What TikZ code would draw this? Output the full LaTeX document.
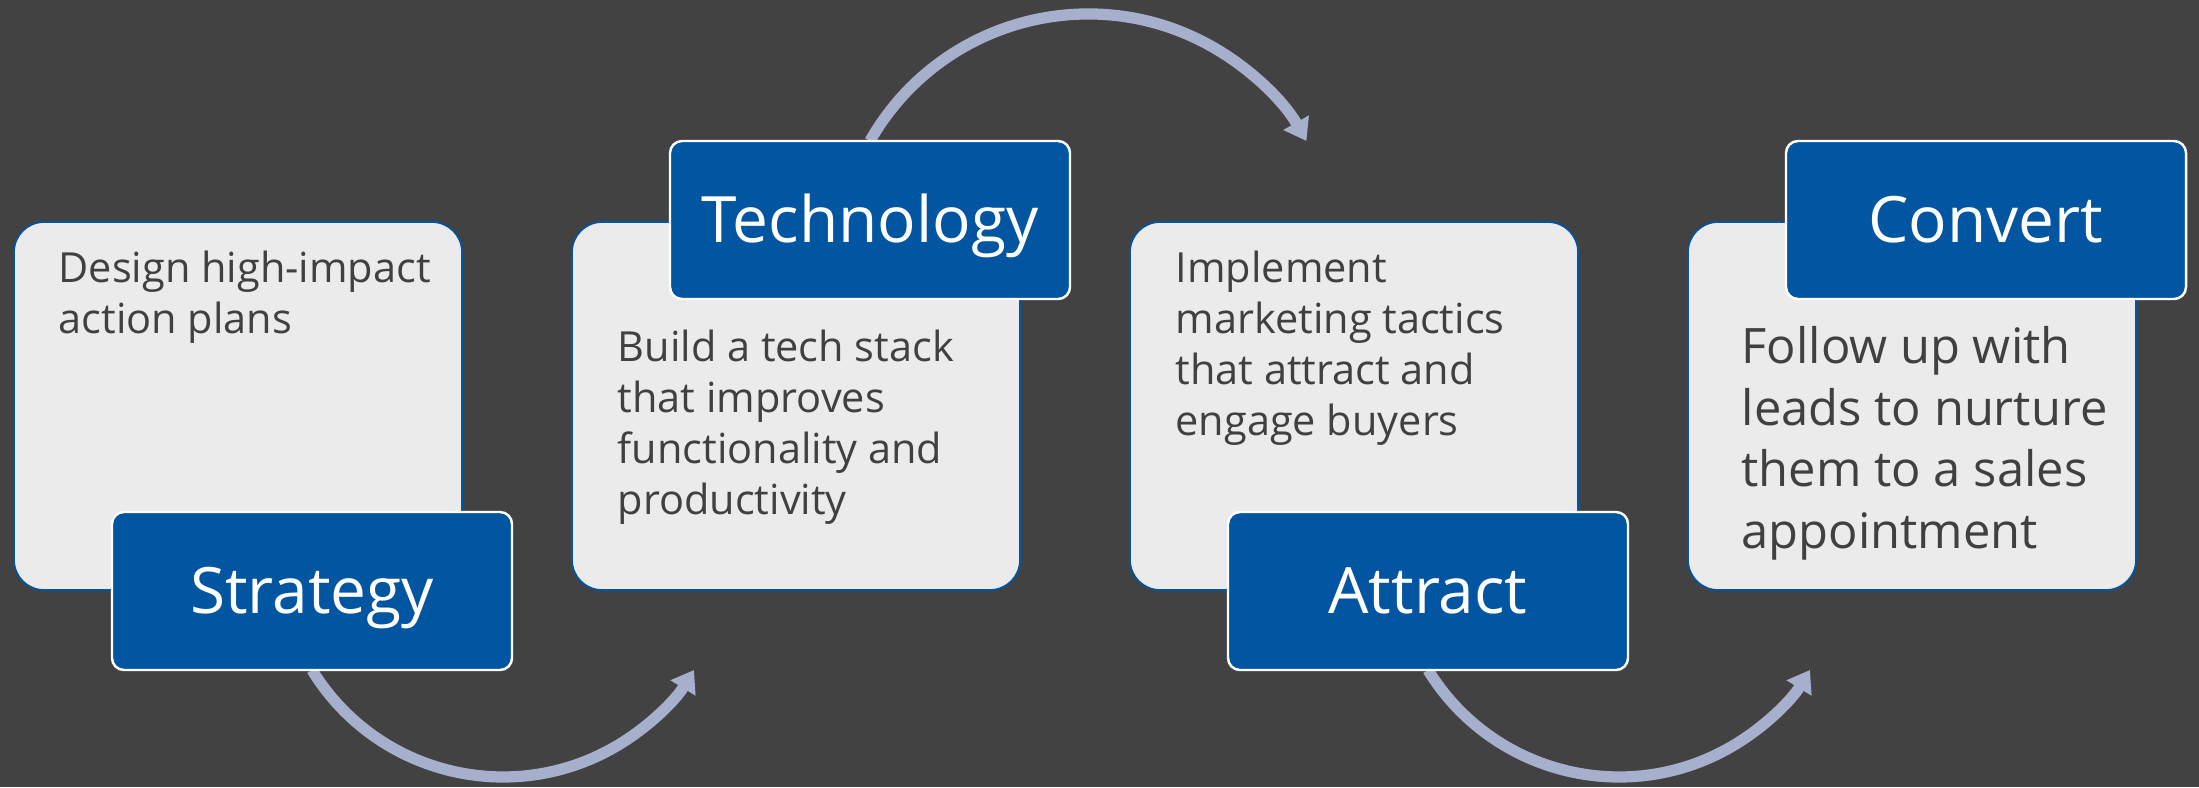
\documentclass[tikz,border=0pt]{standalone}
\usepackage{fontspec}
\setmainfont{Open Sans}
\usepackage{xcolor}
\usepackage{tikz}
\usetikzlibrary{positioning,arrows.meta}

\definecolor{slate}{HTML}{424242}
\definecolor{cardgrey}{HTML}{EBEBEB}
\definecolor{stepblue}{HTML}{0255A0}
\definecolor{loopline}{HTML}{A6AFCB}
\definecolor{inktext}{HTML}{404040}

\pgfdeclarelayer{backdrop}
\pgfdeclarelayer{loops}
\pgfsetlayers{backdrop,loops,main}

\tikzset{
  card/.style={draw=stepblue, line width=0.5pt, fill=cardgrey, rounded corners=0.3cm,
    minimum width=4.48cm, minimum height=3.68cm, inner sep=0, outer sep=0},
  tag/.style={draw=white, line width=0.7pt, fill=stepblue, rounded corners=0.12cm,
    minimum width=4cm, minimum height=1.58cm, inner sep=0, outer sep=0,
    text=white, font=\fontsize{18.2}{22}\selectfont, text height=13pt, text depth=0pt},
  blurb/.style={anchor=north west, inner sep=0, align=left, text=inktext,
    font=\fontsize{11.8}{14.45}\selectfont},
  loop/.style={draw=loopline, line width=3.2pt, -{Triangle[width=8pt,length=6pt]}},
}

\begin{document}
\begin{tikzpicture}
  \begin{pgfonlayer}{backdrop}
    \fill[slate] (0,0) rectangle (21.99,7.87) ; %
  \end{pgfonlayer}
  \useasboundingbox (0,0) rectangle (21.99,7.87) ;

  \node[card] (design) at (2.38,3.81) {} ; %
  \node[card, right=1.1cm of design] (stack) {} ; %
  \node[card, right=1.1cm of stack] (tactics) {} ; %
  \node[card, right=1.1cm of tactics] (nurture) {} ; %

  \node[tag, anchor=north west] (strat) at ([shift={(0.98,0.78)}]design.south west) {Strategy} ; %
  \node[tag, anchor=south west] (tech) at ([shift={(0.98,-0.77)}]stack.north west) {Technology} ; %
  \node[tag, anchor=north west] (attr) at ([shift={(0.98,0.78)}]tactics.south west) {Attract} ; %
  \node[tag, anchor=south west] (conv) at ([shift={(0.98,-0.77)}]nurture.north west) {Convert} ; %

  \node[blurb] (designtxt) at ([shift={(0.44,-0.285)}]design.north west)
    {Design high-impact\\action plans} ; %
  \node[blurb] (stacktxt) at ([shift={(0.45,-1.075)}]stack.north west)
    {Build a tech stack\\that improves\\functionality and\\productivity} ; %
  \node[blurb] (tacticstxt) at ([shift={(0.45,-0.285)}]tactics.north west)
    {Implement\\marketing tactics\\that attract and\\engage buyers} ; %
  \node[blurb, font=\fontsize{13.9}{17.5}\selectfont] (nurturetxt) at ([shift={(0.53,-1.04)}]nurture.north west)
    {Follow up with\\leads to nurture\\them to a sales\\appointment} ; %

  \begin{pgfonlayer}{loops}
    \draw[loop] (strat.south) arc[start angle=211.5, end angle=328.5, radius=2.24] ; %
    \draw[loop] (tech.north) arc[start angle=150.4, end angle=29.6, radius=2.51] ; %
    \draw[loop] (attr.south) arc[start angle=211.5, end angle=328.5, radius=2.24] ; %
  \end{pgfonlayer}
\end{tikzpicture}
\end{document}
